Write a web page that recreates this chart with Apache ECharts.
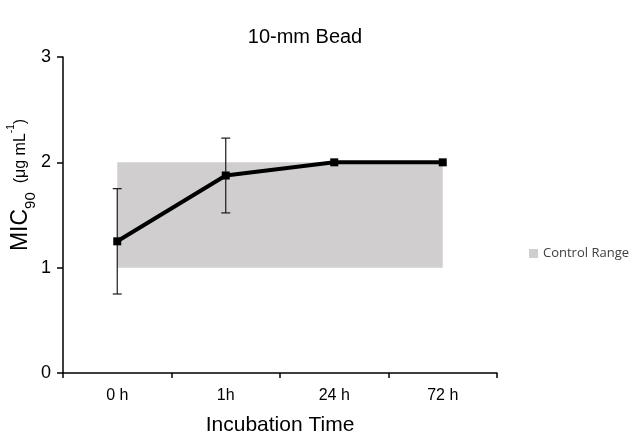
<!DOCTYPE html>
<html>
<head>
<meta charset="utf-8">
<script src="https://cdn.jsdelivr.net/npm/echarts@6/dist/echarts.min.js"></script>
<style>html,body{margin:0;padding:0;background:#fff}#c{width:635px;height:438px}</style>
</head>
<body>
<div id="c"></div>
<script>
var categories = ['0 h', '1h', '24 h', '72 h'];
var micValues = [1.25, 1.875, 2, 2];
var errLow = [0.75, 1.52, null, null];
var errHigh = [1.75, 2.23, null, null];
var rangeLow = [1, 1, 1, 1];
var rangeHigh = [2, 2, 2, 2];
var yTicks = [0, 1, 2, 3];

var chart = echarts.init(document.getElementById('c'));
var errData = [];
categories.forEach(function (c, i) {
  if (errLow[i] != null) errData.push([i, errLow[i], errHigh[i]]);
});
var font = 'Liberation Sans, Arial, sans-serif';
chart.setOption({
  animation: false,
  title: {
    text: '10-mm Bead', left: 300, top: 22, textAlign: 'center',
    textStyle: { fontFamily: font, fontSize: 20, fontWeight: 'normal', color: '#000' }
  },
  legend: {
    data: ['Control Range'], left: 524, top: 242, icon: 'rect', itemWidth: 9, itemHeight: 9, itemGap: 4,
    textStyle: { fontFamily: 'Open Sans, sans-serif', fontSize: 13, color: '#404040' }
  },
  grid: { left: 63, right: 138, top: 57, bottom: 65, containLabel: false, outerBoundsMode: 'none' },
  xAxis: {
    type: 'category', data: categories, boundaryGap: true,
    name: 'Incubation Time', nameLocation: 'middle', nameGap: 42, nameMoveOverlap: false,
    nameTextStyle: { fontFamily: font, fontSize: 21, color: '#000' },
    axisLine: { lineStyle: { color: '#000', width: 1.5 } },
    axisTick: { show: true, length: 5, lineStyle: { color: '#000', width: 1.5 } },
    axisLabel: { fontFamily: font, fontSize: 16, color: '#000', margin: 15 }
  },
  yAxis: {
    type: 'value', min: yTicks[0], max: yTicks[yTicks.length - 1], interval: 1,
    name: '{a|MIC}{s|90}{b|  (μg mL}{p|-1}{b|)}', nameLocation: 'middle', nameGap: 31, nameRotate: 90,
    nameMoveOverlap: false,
    nameTextStyle: {
      fontFamily: font, color: '#000', padding: [0, 0, 0, 60],
      rich: {
        a: { fontFamily: font, fontSize: 23, color: '#000' },
        s: { fontFamily: font, fontSize: 15, color: '#000', verticalAlign: 'bottom', padding: [0, 0, -6, 0] },
        b: { fontFamily: font, fontSize: 16, color: '#000' },
        p: { fontFamily: font, fontSize: 10, color: '#000', verticalAlign: 'top', padding: [-3, 0, 0, 0] }
      }
    },
    splitLine: { show: false },
    axisLine: { show: true, lineStyle: { color: '#000', width: 1.5 } },
    axisTick: { show: true, length: 6, lineStyle: { color: '#000', width: 1.5 } },
    axisLabel: { fontFamily: font, fontSize: 18, color: '#000', margin: 12 }
  },
  series: [
    {
      name: 'base', type: 'line', stack: 'range', data: rangeLow, symbol: 'none',
      lineStyle: { width: 0, opacity: 0 }, silent: true, z: 1
    },
    {
      name: 'Control Range', type: 'line', stack: 'range',
      data: rangeHigh.map(function (v, i) { return v - rangeLow[i]; }),
      symbol: 'none', lineStyle: { width: 0, opacity: 0 },
      areaStyle: { color: '#d0cece', opacity: 1 }, itemStyle: { color: '#d0cece' }, z: 1
    },
    {
      name: 'err', type: 'custom', z: 3,
      data: errData,
      renderItem: function (params, api) {
        var x = api.value(0);
        var lo = api.coord([x, api.value(1)]);
        var hi = api.coord([x, api.value(2)]);
        var w = 4.5;
        var st = { stroke: '#1a1a1a', lineWidth: 1.2 };
        return {
          type: 'group', children: [
            { type: 'line', shape: { x1: lo[0], y1: lo[1], x2: hi[0], y2: hi[1] }, style: st },
            { type: 'line', shape: { x1: lo[0] - w, y1: lo[1], x2: lo[0] + w, y2: lo[1] }, style: st },
            { type: 'line', shape: { x1: hi[0] - w, y1: hi[1], x2: hi[0] + w, y2: hi[1] }, style: st }
          ]
        };
      }
    },
    {
      name: 'MIC', type: 'line', data: micValues, z: 4,
      symbol: 'rect', symbolSize: 8,
      lineStyle: { color: '#000', width: 4 },
      itemStyle: { color: '#000' }
    }
  ]
});
</script>
</body>
</html>
